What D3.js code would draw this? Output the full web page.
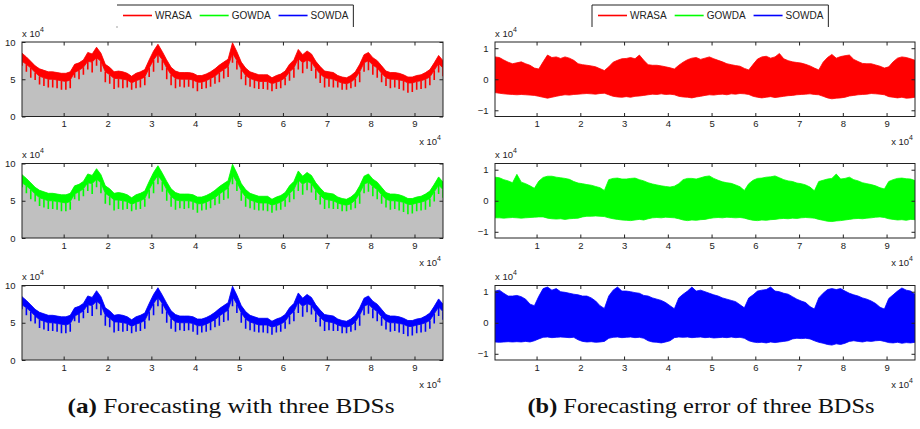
<!DOCTYPE html>
<html>
<head>
<meta charset="utf-8">
<script src="https://cdn.jsdelivr.net/npm/d3@7"></script>
<style>
  body { margin: 0; background: #fff; }
  svg { display: block; }
</style>
</head>
<body>
<div id="wrapper"></div>
<script>
// samples are read every 0.1 (x 10^4) along the time axis, starting at 0.05
const sampleStart = 0.05
const sampleStep = 0.1

const seriesNames = ["WRASA", "GOWDA", "SOWDA"]

// (a) forecast load, x 10^4 -- the three forecasts look the same at this size
const loadUpper = [8.5,8.0,7.4,6.8,6.4,6.2,6.0,6.0,5.9,5.8,
  5.8,6.0,7.0,7.2,7.6,8.6,8.4,9.3,8.5,7.0,
  6.6,6.0,6.1,6.0,5.8,5.4,5.8,6.0,6.3,7.6,
  8.8,9.7,8.7,7.6,6.6,6.1,5.9,5.9,5.9,5.8,
  5.5,5.5,5.7,6.0,6.4,6.9,7.3,7.7,9.9,8.7,
  7.3,6.5,6.0,5.8,5.6,5.6,5.6,5.2,5.5,5.7,
  6.1,7.0,7.6,9.0,8.3,8.8,8.4,7.4,6.7,6.1,
  6.0,5.9,5.5,5.3,5.2,5.5,6.0,7.0,8.3,8.6,
  7.9,7.5,6.8,6.1,5.9,5.9,5.8,5.6,5.3,5.3,
  5.5,5.6,5.9,6.3,7.2,8.2,7.5]
const loadBand = [7.4,7.0,6.5,5.9,5.4,5.2,5.0,5.0,4.9,4.8,
  4.7,4.9,5.9,6.2,6.6,7.4,7.3,7.9,7.4,6.0,
  5.6,5.1,5.1,5.0,4.9,4.5,4.8,5.0,5.3,6.5,
  7.6,8.4,7.6,6.5,5.6,5.1,5.0,5.0,5.0,4.9,
  4.6,4.6,4.8,5.1,5.4,5.9,6.3,6.7,8.5,7.5,
  6.3,5.5,5.1,4.9,4.7,4.7,4.7,4.4,4.6,4.8,
  5.2,6.0,6.5,7.8,7.2,7.6,7.3,6.4,5.7,5.2,
  5.1,5.0,4.7,4.5,4.4,4.6,5.1,6.0,7.2,7.5,
  6.9,6.5,5.8,5.2,5.0,5.0,4.9,4.8,4.5,4.5,
  4.7,4.8,5.0,5.3,6.2,7.1,6.5]
const loadSpike = [6.8,6.0,5.2,4.9,4.3,4.1,3.9,3.9,3.8,3.6,
  3.6,3.8,5.2,5.0,5.6,6.3,5.9,6.8,6.0,4.6,
  4.4,3.7,3.9,3.8,3.9,3.6,3.8,3.9,4.2,5.3,
  6.0,7.2,6.2,5.0,4.2,3.8,4.0,3.9,4.0,3.8,
  3.4,3.7,3.8,4.0,4.4,4.6,5.1,5.3,7.2,6.3,
  5.0,4.2,4.0,3.8,3.7,3.7,3.6,3.4,3.7,3.8,
  4.2,4.8,5.2,6.3,5.8,6.4,6.1,5.1,4.5,3.9,
  4.0,3.9,3.9,3.6,3.6,3.8,4.0,4.6,6.0,6.2,
  5.6,5.2,4.6,4.1,3.8,3.9,3.7,3.5,3.2,3.3,
  3.6,3.7,3.8,4.2,4.9,5.9,5.4]

// (b) forecasting error envelopes, x 10^4
const wrasaErrUpper = [0.72,0.70,0.62,0.55,0.50,0.53,0.56,0.50,0.45,0.36,
  0.33,0.56,0.78,0.70,0.72,0.67,0.72,0.68,0.61,0.50,
  0.47,0.45,0.43,0.40,0.34,0.28,0.40,0.55,0.61,0.66,
  0.67,0.70,0.66,0.78,0.61,0.47,0.45,0.45,0.43,0.40,
  0.37,0.33,0.45,0.55,0.63,0.68,0.70,0.64,0.68,0.72,
  0.66,0.61,0.56,0.50,0.47,0.44,0.42,0.35,0.30,0.48,
  0.65,0.72,0.74,0.68,0.72,0.83,0.66,0.60,0.56,0.54,
  0.52,0.48,0.43,0.36,0.30,0.55,0.70,0.80,0.68,0.73,
  0.76,0.78,0.64,0.57,0.51,0.50,0.50,0.46,0.42,0.36,
  0.40,0.56,0.68,0.72,0.70,0.66,0.61]
const wrasaErrLower = [-0.43,-0.45,-0.47,-0.48,-0.49,-0.50,-0.49,-0.50,-0.51,-0.52,
  -0.55,-0.58,-0.61,-0.58,-0.55,-0.52,-0.50,-0.51,-0.49,-0.48,
  -0.47,-0.46,-0.47,-0.48,-0.46,-0.45,-0.50,-0.55,-0.57,-0.58,
  -0.56,-0.58,-0.55,-0.54,-0.52,-0.50,-0.48,-0.49,-0.47,-0.49,
  -0.48,-0.50,-0.55,-0.57,-0.58,-0.60,-0.57,-0.55,-0.52,-0.50,
  -0.51,-0.49,-0.48,-0.50,-0.47,-0.48,-0.46,-0.47,-0.49,-0.55,
  -0.58,-0.60,-0.58,-0.56,-0.59,-0.57,-0.55,-0.53,-0.52,-0.50,
  -0.49,-0.48,-0.47,-0.49,-0.50,-0.55,-0.60,-0.63,-0.61,-0.60,
  -0.58,-0.54,-0.52,-0.50,-0.49,-0.48,-0.46,-0.47,-0.48,-0.50,
  -0.56,-0.58,-0.60,-0.58,-0.61,-0.60,-0.58]
const gowdaErrUpper = [0.76,0.74,0.68,0.64,0.58,0.85,0.60,0.55,0.48,0.40,
  0.63,0.75,0.79,0.79,0.76,0.74,0.72,0.69,0.62,0.57,
  0.55,0.52,0.50,0.46,0.42,0.33,0.68,0.72,0.73,0.70,
  0.70,0.72,0.73,0.68,0.64,0.58,0.54,0.51,0.48,0.46,
  0.44,0.47,0.55,0.68,0.72,0.72,0.70,0.74,0.78,0.80,
  0.72,0.66,0.61,0.58,0.56,0.51,0.45,0.33,0.55,0.66,
  0.72,0.73,0.76,0.77,0.80,0.74,0.68,0.64,0.62,0.57,
  0.55,0.51,0.44,0.32,0.62,0.66,0.70,0.72,0.86,0.70,
  0.72,0.76,0.68,0.64,0.58,0.55,0.52,0.48,0.42,0.38,
  0.62,0.68,0.72,0.73,0.71,0.70,0.65]
const gowdaErrLower = [-0.55,-0.55,-0.56,-0.55,-0.54,-0.55,-0.56,-0.55,-0.54,-0.53,
  -0.52,-0.52,-0.56,-0.58,-0.59,-0.58,-0.60,-0.58,-0.57,-0.56,
  -0.52,-0.50,-0.50,-0.49,-0.50,-0.51,-0.55,-0.58,-0.60,-0.62,
  -0.63,-0.64,-0.62,-0.60,-0.62,-0.58,-0.55,-0.54,-0.55,-0.53,
  -0.54,-0.55,-0.58,-0.62,-0.64,-0.62,-0.63,-0.61,-0.60,-0.57,
  -0.55,-0.54,-0.55,-0.53,-0.54,-0.55,-0.54,-0.56,-0.60,-0.63,
  -0.64,-0.62,-0.63,-0.61,-0.60,-0.58,-0.57,-0.58,-0.56,-0.57,
  -0.55,-0.54,-0.55,-0.56,-0.60,-0.63,-0.66,-0.67,-0.65,-0.64,
  -0.62,-0.60,-0.58,-0.57,-0.58,-0.56,-0.55,-0.53,-0.52,-0.54,
  -0.58,-0.60,-0.62,-0.61,-0.63,-0.60,-0.61]
const sowdaErrUpper = [1.02,1.05,0.95,0.86,0.86,0.88,0.84,0.76,0.60,0.55,
  0.85,1.10,1.15,1.05,1.10,1.00,0.98,0.95,0.92,0.90,
  0.86,0.86,0.80,0.70,0.55,0.46,0.86,1.05,1.15,1.02,
  1.02,1.00,0.97,0.95,0.88,0.86,0.80,0.76,0.72,0.65,
  0.55,0.45,0.80,0.92,1.02,1.15,1.02,1.05,1.00,0.95,
  0.90,0.86,0.80,0.76,0.72,0.68,0.58,0.48,0.80,0.90,
  1.02,1.05,1.07,1.15,1.02,1.00,0.95,0.92,0.84,0.76,
  0.70,0.65,0.52,0.44,0.80,0.95,1.07,1.10,1.07,1.10,
  1.02,0.95,0.90,0.86,0.80,0.76,0.70,0.62,0.50,0.44,
  0.78,0.90,1.02,1.12,1.05,1.02,0.92]
const sowdaErrLower = [-0.62,-0.63,-0.62,-0.61,-0.62,-0.61,-0.62,-0.60,-0.62,-0.58,
  -0.52,-0.47,-0.46,-0.48,-0.47,-0.46,-0.47,-0.48,-0.47,-0.55,
  -0.60,-0.62,-0.61,-0.63,-0.62,-0.60,-0.50,-0.47,-0.46,-0.48,
  -0.47,-0.46,-0.48,-0.47,-0.50,-0.58,-0.62,-0.63,-0.65,-0.62,
  -0.58,-0.48,-0.46,-0.47,-0.46,-0.48,-0.47,-0.46,-0.48,-0.47,
  -0.49,-0.48,-0.47,-0.48,-0.46,-0.48,-0.47,-0.50,-0.58,-0.62,
  -0.64,-0.63,-0.65,-0.62,-0.64,-0.62,-0.60,-0.58,-0.52,-0.50,
  -0.51,-0.50,-0.52,-0.58,-0.63,-0.66,-0.70,-0.72,-0.68,-0.70,
  -0.66,-0.60,-0.58,-0.60,-0.62,-0.59,-0.60,-0.58,-0.57,-0.60,
  -0.64,-0.65,-0.63,-0.66,-0.64,-0.65,-0.63]

const xTickValues = [1, 2, 3, 4, 5, 6, 7, 8, 9]
const loadTickValues = [0, 5, 10]
const errTickValues = [-1, 0, 1]
const captions = [
  ["(a)", " Forecasting with three BDSs"],
  ["(b)", " Forecasting error of three BDSs"],
]

function drawPanels() {
  const dimensions = { width: 920, height: 429 }
  const colors = ["#ff0000", "#00ff00", "#0000ff"]
  const columns = [
    { left: 22, right: 443, legendLeft: 117, legendSide: false, captionX: 231, captionWidth: 327 },
    { left: 495, right: 915, legendLeft: 592, legendSide: true, captionX: 701, captionWidth: 347 },
  ]
  const rowTops = [42, 163.5, 285.5]
  const panelHeight = 74.5
  const tickLength = 3.5
  const sansFont = "'Liberation Sans', Arial, Helvetica, sans-serif"

  const wrapper = d3.select("#wrapper")
    .append("svg")
      .attr("width", dimensions.width)
      .attr("height", dimensions.height)
      .style("font-family", sansFont)

  const xAccessor = (d, i) => sampleStart + i * sampleStep
  const xDomain = [sampleStart, sampleStart + (loadUpper.length - 1) * sampleStep]

  const errSeries = [
    { upper: wrasaErrUpper, lower: wrasaErrLower },
    { upper: gowdaErrUpper, lower: gowdaErrLower },
    { upper: sowdaErrUpper, lower: sowdaErrLower },
  ]

  let clipCount = 0
  function clippedGroup(xScale, yScale) {
    const id = "panel-clip-" + clipCount++
    wrapper.append("clipPath")
      .attr("id", id)
      .append("rect")
        .attr("x", xScale.range()[0])
        .attr("y", yScale.range()[1])
        .attr("width", xScale.range()[1] - xScale.range()[0])
        .attr("height", yScale.range()[0] - yScale.range()[1])
    return wrapper.append("g").attr("clip-path", `url(#${id})`)
  }

  function superscriptLabel(g, x, y, anchor) {
    const t = g.append("text")
      .attr("x", x)
      .attr("y", y)
      .attr("text-anchor", anchor)
      .attr("fill", "#222")
      .style("font-size", "9.5px")
    t.append("tspan").text("x 10")
    t.append("tspan").attr("dy", -5).style("font-size", "7px").text("4")
  }

  function drawFrame(xScale, yScale, yTicks) {
    const [left, right] = xScale.range()
    const [bottom, top] = yScale.range()
    const frame = wrapper.append("g")

    const axes = [
      { gen: d3.axisBottom(xScale).tickValues(xTickValues).tickFormat(d3.format("d")), at: `translate(0,${bottom})`, pad: 4.2 },
      { gen: d3.axisTop(xScale).tickValues(xTickValues).tickFormat(""), at: `translate(0,${top})`, pad: 0 },
      { gen: d3.axisLeft(yScale).tickValues(yTicks).tickFormat(d3.format("d")), at: `translate(${left},0)`, pad: 6.5 },
      { gen: d3.axisRight(yScale).tickValues(yTicks).tickFormat(""), at: `translate(${right},0)`, pad: 0 },
    ]
    axes.forEach(a => {
      const g = frame.append("g")
        .attr("transform", a.at)
        .call(a.gen.tickSize(-tickLength).tickPadding(a.pad))
        .attr("font-family", sansFont)
        .attr("font-size", 9.5)
      g.select(".domain").remove()
      g.selectAll(".tick line").attr("stroke", "#222")
      g.selectAll(".tick text").attr("fill", "#222")
    })

    frame.append("rect")
      .attr("x", left)
      .attr("y", top)
      .attr("width", right - left)
      .attr("height", bottom - top)
      .attr("fill", "none")
      .attr("stroke", "#222")
      .attr("stroke-width", 1)

    superscriptLabel(frame, left, top - 5.5, "start")
    superscriptLabel(frame, right - 2, bottom + 28, "end")
  }

  rowTops.forEach((top, row) => {
    // left column: forecast over the gray load area
    const colA = columns[0]
    const xA = d3.scaleLinear().domain(xDomain).range([colA.left, colA.right])
    const yA = d3.scaleLinear().domain([0, 10]).range([top + panelHeight, top])
    const gA = clippedGroup(xA, yA)

    gA.append("path")
      .datum(loadUpper)
      .attr("d", d3.area()
        .x((d, i) => xA(xAccessor(d, i)))
        .y0(yA(0))
        .y1(d => yA(d)))
      .attr("fill", "#c0c0c0")

    const rows = d3.zip(loadUpper, loadBand, loadSpike)
    gA.append("path")
      .datum(rows)
      .attr("d", d3.area()
        .x((d, i) => xA(xAccessor(d, i)))
        .y0(d => yA(d[1]))
        .y1(d => yA(d[0])))
      .attr("fill", colors[row])
      .attr("stroke", colors[row])
      .attr("stroke-width", 0.8)

    gA.selectAll(".spike")
      .data(rows)
      .join("line")
        .attr("class", "spike")
        .attr("x1", (d, i) => xA(xAccessor(d, i)))
        .attr("x2", (d, i) => xA(xAccessor(d, i)))
        .attr("y1", d => yA(d[1]))
        .attr("y2", d => yA(d[2]))
        .attr("stroke", colors[row])
        .attr("stroke-width", 1.6)

    drawFrame(xA, yA, loadTickValues)

    // right column: error envelope
    const colB = columns[1]
    const xB = d3.scaleLinear().domain(xDomain).range([colB.left, colB.right])
    const yB = d3.scaleLinear().domain([-1.2, 1.2]).range([top + panelHeight, top])
    const gB = clippedGroup(xB, yB)
    const err = d3.zip(errSeries[row].upper, errSeries[row].lower)

    gB.append("path")
      .datum(err)
      .attr("d", d3.area()
        .x((d, i) => xB(xAccessor(d, i)))
        .y0(d => yB(d[1]))
        .y1(d => yB(d[0])))
      .attr("fill", colors[row])
      .attr("stroke", colors[row])
      .attr("stroke-width", 0.8)

    drawFrame(xB, yB, errTickValues)
  })

  // legends, one per column, MATLAB style box with the bottom edge cut off
  columns.forEach(col => {
    const legend = wrapper.append("g")
    const lineY = 15.5
    let cursor = col.legendLeft + 6
    seriesNames.forEach((name, i) => {
      legend.append("line")
        .attr("x1", cursor)
        .attr("x2", cursor + 29)
        .attr("y1", lineY)
        .attr("y2", lineY)
        .attr("stroke", colors[i])
        .attr("stroke-width", 1.6)
      const label = legend.append("text")
        .attr("x", cursor + 32)
        .attr("y", lineY + 3.5)
        .attr("fill", "#222")
        .style("font-size", "10px")
        .text(name)
      cursor += 32 + label.node().getComputedTextLength() + 8
    })
    const boxRight = cursor - 3
    legend.append("path")
      .attr("d", col.legendSide
        ? `M${col.legendLeft},27V5H${boxRight}V27`
        : `M${col.legendLeft},5H${boxRight}V27`)
      .attr("fill", "none")
      .attr("stroke", "#222")
      .attr("stroke-width", 1)
    if (!col.legendSide) {
      legend.append("rect")
        .attr("x", col.legendLeft - 0.5)
        .attr("y", 26.5)
        .attr("width", 1)
        .attr("height", 1)
        .attr("fill", "#444")
    }
  })

  // captions under each column, stretched to the width of the original
  columns.forEach((col, i) => {
    const cap = wrapper.append("text")
      .attr("x", col.captionX)
      .attr("y", 413)
      .attr("text-anchor", "middle")
      .attr("fill", "#111")
      .attr("textLength", col.captionWidth)
      .attr("lengthAdjust", "spacingAndGlyphs")
      .style("font-family", "'Liberation Serif', 'Times New Roman', serif")
      .style("font-size", "21px")
    cap.append("tspan").style("font-weight", "bold").text(captions[i][0])
    cap.append("tspan").text(captions[i][1])
  })
}

drawPanels()
</script>
</body>
</html>
